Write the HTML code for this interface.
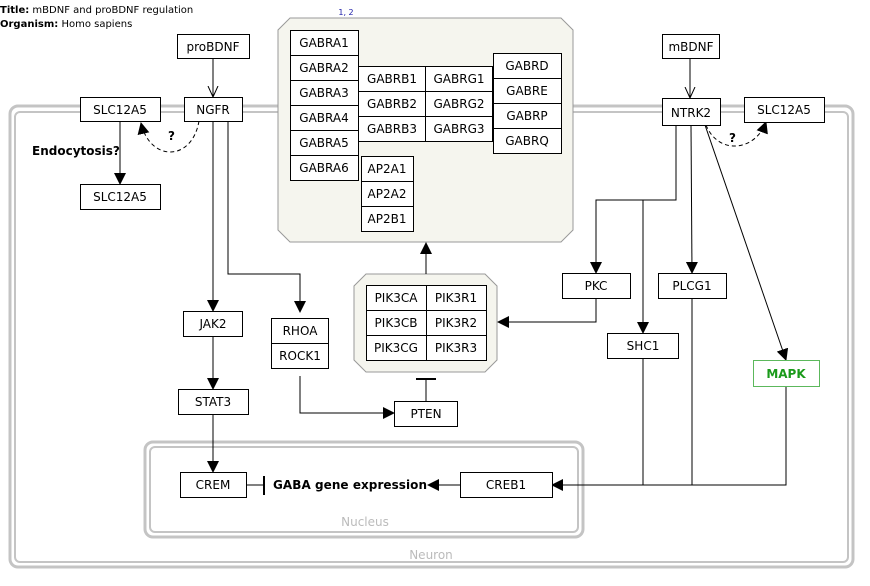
<!DOCTYPE html>
<html><head><meta charset="utf-8"><style>
html,body{margin:0;padding:0;background:#fff;}
svg{display:block;font-family:"DejaVu Sans","Liberation Sans",sans-serif;}
</style></head><body>
<svg width="870" height="586" viewBox="0 0 870 586" xmlns="http://www.w3.org/2000/svg">
<defs>
<marker id="a" markerWidth="12" markerHeight="12" refX="11" refY="6" orient="auto" markerUnits="userSpaceOnUse"><path d="M0,0 L12,6 L0,12 z" fill="#000"/></marker>
<marker id="o" markerWidth="12" markerHeight="12" refX="11" refY="6" orient="auto" markerUnits="userSpaceOnUse"><path d="M0,1 L11,6 L0,11" fill="none" stroke="#000" stroke-width="1"/></marker>
</defs>
<text x="0" y="13" font-size="10"><tspan font-weight="bold">Title:</tspan>   mBDNF and proBDNF regulation</text>
<text x="0" y="27" font-size="10"><tspan font-weight="bold">Organism:</tspan>   Homo sapiens</text>
<rect x="10" y="106" width="843" height="461" rx="8" fill="none" stroke="#c4c4c4" stroke-width="3"/>
<rect x="15" y="112" width="833" height="450" rx="5" fill="none" stroke="#c4c4c4" stroke-width="2"/>
<text x="431" y="559" font-size="12" fill="#bbb" text-anchor="middle">Neuron</text>
<rect x="145" y="442" width="438" height="95" rx="8" fill="none" stroke="#c4c4c4" stroke-width="3"/>
<rect x="150" y="447" width="428" height="85" rx="5" fill="none" stroke="#c4c4c4" stroke-width="2"/>
<text x="365" y="526" font-size="12" fill="#bbb" text-anchor="middle">Nucleus</text>
<polygon points="290,18 561,18 573,30 573,230 561,242 290,242 278,230 278,30" fill="#f5f5ee" stroke="#999" stroke-width="1"/>
<text x="346" y="15" font-size="8" fill="#2222aa" text-anchor="middle">1, 2</text>
<g stroke="#000" fill="#fff">
<rect x="290.5" y="30.5" width="68" height="25"/><rect x="290.5" y="55.5" width="68" height="25"/><rect x="290.5" y="80.5" width="68" height="25"/><rect x="290.5" y="105.5" width="68" height="25"/><rect x="290.5" y="130.5" width="68" height="25"/><rect x="290.5" y="155.5" width="68" height="25"/>
<rect x="358.5" y="66.5" width="67" height="25"/><rect x="358.5" y="91.5" width="67" height="25"/><rect x="358.5" y="116.5" width="67" height="25"/>
<rect x="425.5" y="66.5" width="67" height="25"/><rect x="425.5" y="91.5" width="67" height="25"/><rect x="425.5" y="116.5" width="67" height="25"/>
<rect x="493.5" y="53.5" width="68" height="25"/><rect x="493.5" y="78.5" width="68" height="25"/><rect x="493.5" y="103.5" width="68" height="25"/><rect x="493.5" y="128.5" width="68" height="25"/>
<rect x="361.5" y="156.5" width="52" height="25"/><rect x="361.5" y="181.5" width="52" height="25"/><rect x="361.5" y="206.5" width="52" height="25"/>
</g>
<g font-size="12" fill="#000" text-anchor="middle">
<text x="324" y="47">GABRA1</text><text x="324" y="72">GABRA2</text><text x="324" y="97">GABRA3</text><text x="324" y="122">GABRA4</text><text x="324" y="147">GABRA5</text><text x="324" y="172">GABRA6</text>
<text x="392" y="83">GABRB1</text><text x="392" y="108">GABRB2</text><text x="392" y="133">GABRB3</text>
<text x="459" y="83">GABRG1</text><text x="459" y="108">GABRG2</text><text x="459" y="133">GABRG3</text>
<text x="527" y="70">GABRD</text><text x="527" y="95">GABRE</text><text x="527" y="120">GABRP</text><text x="527" y="145">GABRQ</text>
<text x="387" y="173">AP2A1</text><text x="387" y="198">AP2A2</text><text x="387" y="223">AP2B1</text>
</g>
<polygon points="366,274 485,274 497,286 497,360 485,372 366,372 354,360 354,286" fill="#f5f5ee" stroke="#999"/>
<g stroke="#000" fill="#fff">
<rect x="366.5" y="285.5" width="60" height="25"/><rect x="366.5" y="310.5" width="60" height="25"/><rect x="366.5" y="335.5" width="60" height="25"/>
<rect x="426.5" y="285.5" width="60" height="25"/><rect x="426.5" y="310.5" width="60" height="25"/><rect x="426.5" y="335.5" width="60" height="25"/>
</g>
<g font-size="12" text-anchor="middle">
<text x="396" y="302">PIK3CA</text><text x="396" y="327">PIK3CB</text><text x="396" y="352">PIK3CG</text>
<text x="456" y="302">PIK3R1</text><text x="456" y="327">PIK3R2</text><text x="456" y="352">PIK3R3</text>
</g>
<g stroke="#000" stroke-width="1" fill="none">
<line x1="213" y1="58" x2="213" y2="97" marker-end="url(#o)"/>
<line x1="690" y1="58" x2="690" y2="98" marker-end="url(#o)"/>
<line x1="120" y1="121" x2="120" y2="184" marker-end="url(#a)"/>
<path d="M199,121 C192,162 150,162 141,123" stroke-dasharray="4,3" marker-end="url(#a)"/>
<path d="M706,125 C718,155 755,152 766,122" stroke-dasharray="4,3" marker-end="url(#a)"/>
<line x1="213" y1="121" x2="213" y2="311" marker-end="url(#a)"/>
<polyline points="228,121 228,274 300,274 300,312" marker-end="url(#a)"/>
<line x1="213" y1="336" x2="213" y2="389" marker-end="url(#a)"/>
<line x1="213" y1="414" x2="213" y2="472" marker-end="url(#a)"/>
<polyline points="300,376 300,413 394,413" marker-end="url(#a)"/>
<line x1="426" y1="401" x2="426" y2="379"/>
<line x1="416" y1="379" x2="436" y2="379" stroke-width="2"/>
<line x1="426" y1="274" x2="426" y2="243" marker-end="url(#a)"/>
<polyline points="596,298 596,322 498,322" marker-end="url(#a)"/>
<polyline points="676,125 676,200 596,200 596,273" marker-end="url(#a)"/>
<line x1="643" y1="200" x2="643" y2="333" marker-end="url(#a)"/>
<line x1="691" y1="125" x2="692" y2="273" marker-end="url(#a)"/>
<line x1="705" y1="125" x2="786" y2="360" marker-end="url(#a)"/>
<line x1="643" y1="358" x2="643" y2="485"/>
<line x1="692" y1="298" x2="692" y2="485"/>
<polyline points="786,386 786,485 552,485" marker-end="url(#a)"/>
<line x1="460" y1="485" x2="428" y2="485" marker-end="url(#a)"/>
<line x1="246" y1="485" x2="264" y2="485"/>
<line x1="264" y1="476" x2="264" y2="495" stroke-width="2"/>
</g>
<g stroke="#000" fill="#fff">
<rect x="177.5" y="34.5" width="72" height="24"/>
<rect x="662.5" y="34.5" width="57" height="24"/>
<rect x="80.5" y="97.5" width="80" height="24"/>
<rect x="184.5" y="97.5" width="58" height="24"/>
<rect x="80.5" y="184.5" width="80" height="25"/>
<rect x="662.5" y="98.5" width="58" height="27"/>
<rect x="744.5" y="97.5" width="80" height="25"/>
<rect x="183.5" y="311.5" width="59" height="25"/>
<rect x="271.5" y="318.5" width="57" height="25"/><rect x="271.5" y="343.5" width="57" height="25"/>
<rect x="178.5" y="389.5" width="70" height="25"/>
<rect x="394.5" y="401.5" width="63" height="25"/>
<rect x="562.5" y="273.5" width="68" height="25"/>
<rect x="658.5" y="273.5" width="68" height="25"/>
<rect x="607.5" y="333.5" width="71" height="25"/>
<rect x="753.5" y="360.5" width="66" height="26" stroke="#5cb85c"/>
<rect x="180.5" y="472.5" width="66" height="25"/>
<rect x="460.5" y="472.5" width="92" height="25"/>
</g>
<g font-size="12" text-anchor="middle">
<text x="213" y="51">proBDNF</text>
<text x="691" y="51">mBDNF</text>
<text x="120" y="114">SLC12A5</text>
<text x="213" y="114">NGFR</text>
<text x="120" y="201">SLC12A5</text>
<text x="691" y="117">NTRK2</text>
<text x="784" y="114">SLC12A5</text>
<text x="213" y="328">JAK2</text>
<text x="300" y="335">RHOA</text><text x="300" y="360">ROCK1</text>
<text x="213" y="406">STAT3</text>
<text x="426" y="418">PTEN</text>
<text x="596" y="290">PKC</text>
<text x="692" y="290">PLCG1</text>
<text x="643" y="350">SHC1</text>
<text x="786" y="378" fill="#1a9a1a" font-weight="bold">MAPK</text>
<text x="213" y="489">CREM</text>
<text x="506" y="489">CREB1</text>
</g>
<g font-size="12" font-weight="bold">
<text x="168" y="140">?</text>
<text x="729" y="142">?</text>
<text x="32" y="155">Endocytosis?</text>
<text x="273" y="489" textLength="154">GABA gene expression</text>
</g>
</svg>
</body></html>
